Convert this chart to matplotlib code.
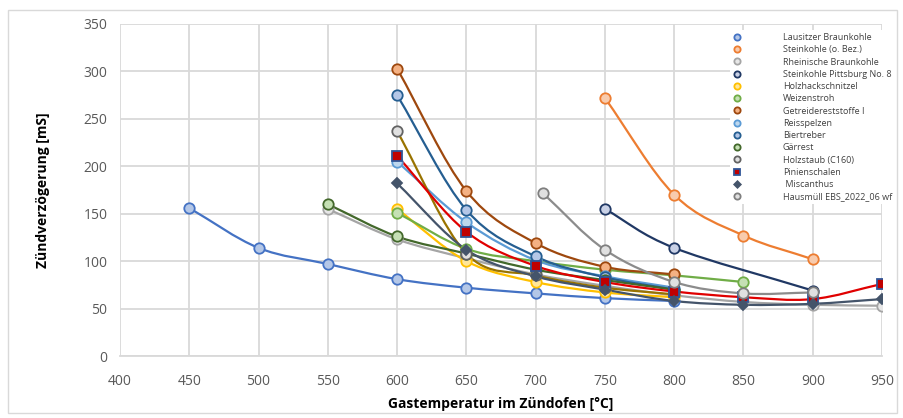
import numpy as np
import matplotlib
matplotlib.use('Agg')
import matplotlib.pyplot as plt
from matplotlib.path import Path
from matplotlib.patches import PathPatch, Rectangle

plt.rcParams['font.family'] = ['Open Sans', 'DejaVu Sans']

# ****************************** data ******************************
names = ['Lausitzer Braunkohle', 'Steinkohle (o. Bez.)', 'Rheinische Braunkohle',
         'Steinkohle Pittsburg No. 8', 'Holzhackschnitzel', 'Weizenstroh',
         'Getreidereststoffe I', 'Reisspelzen', 'Biertreber', 'Gärrest',
         'Holzstaub (C160)', 'Pinienschalen', ' Miscanthus', 'Hausmüll EBS_2022_06 wf']

lausitzer_t = [450, 500, 550, 600, 650, 700, 750, 800]
lausitzer_v = [156, 114, 97, 81, 72, 66, 61, 58]
steinkohle_t = [750, 800, 850, 900]
steinkohle_v = [272, 170, 127, 102]
rheinisch_t = [550, 600, 650, 700, 750, 800, 850, 900, 950]
rheinisch_v = [155, 123, 103, 86, 74, 64, 57, 54, 53]
pittsburg_t = [750, 800, 900]
pittsburg_v = [155, 114, 69]
holzhack_t = [600, 650, 700, 750, 800]
holzhack_v = [155, 100, 78, 67, 62]
weizen_t = [600, 650, 700, 750, 800, 850]
weizen_v = [151, 113, 100, 91, 85, 78]
getreide_t = [600, 650, 700, 750, 800]
getreide_v = [303, 174, 119, 94, 86]
reis_t = [600, 650, 700, 750, 800]
reis_v = [205, 141, 101, 84, 72]
biertreber_t = [600, 650, 700, 750, 800]
biertreber_v = [275, 154, 105, 83, 70]
gaerrest_t = [550, 600, 650, 700, 750, 800]
gaerrest_v = [160, 126, 108, 91, 80, 70]
holzstaub_t = [600, 650, 700, 750, 800]
holzstaub_v = [237, 108, 85, 72, 65]
pinien_t = [600, 650, 700, 750, 800, 850, 900, 950]
pinien_v = [211, 131, 95, 78, 68, 62, 60, 76]
miscanthus_t = [600, 650, 700, 750, 800, 850, 900, 950]
miscanthus_v = [182, 112, 84, 70, 58, 54, 55, 60]
hausmuell_t = [705, 750, 800, 850, 900]
hausmuell_v = [172, 112, 78, 66, 67]

temps = [lausitzer_t, steinkohle_t, rheinisch_t, pittsburg_t, holzhack_t, weizen_t,
         getreide_t, reis_t, biertreber_t, gaerrest_t, holzstaub_t, pinien_t,
         miscanthus_t, hausmuell_t]
values = [lausitzer_v, steinkohle_v, rheinisch_v, pittsburg_v, holzhack_v, weizen_v,
          getreide_v, reis_v, biertreber_v, gaerrest_v, holzstaub_v, pinien_v,
          miscanthus_v, hausmuell_v]

# ****************************** styles ******************************
edge = ['#4472C4', '#ED7D31', '#A5A5A5', '#203864', '#FFC000', '#70AD47', '#9E480E',
        '#5B9BD5', '#255E91', '#43682B', '#636363', '#2F5597', '#44546A', '#7F7F7F']
face = ['#B4C7E7', '#F8CBAD', '#E7E7E7', '#C9D1E6', '#FFE699', '#C5E0B4', '#F4B183',
        '#BDD7EE', '#B4C7E7', '#C5E0B4', '#E0E0E0', '#C00000', '#44546A', '#E0E0E0']
line = ['#4472C4', '#ED7D31', '#A5A5A5', '#203864', '#FFC000', '#70AD47', '#9E480E',
        '#5B9BD5', '#255E91', '#43682B', '#997300', '#E00000', '#44546A', '#8C8C8C']
marker = ['o'] * 11 + ['s', 'D', 'o']
msize = [7.5] * 11 + [7.5, 5.5, 7.5]


def smooth_path(xs, ys, t=1 / 6):
    # Excel-like smoothed line: Catmull-Rom segments as cubic Bezier
    pts = list(zip(xs, ys))
    n = len(pts)
    if n > 1:
        first = (2 * pts[0][0] - pts[1][0], 2 * pts[0][1] - pts[1][1])
        last = (2 * pts[-1][0] - pts[-2][0], 2 * pts[-1][1] - pts[-2][1])
        ext = [first] + pts + [last]
    else:
        ext = pts
    verts = [pts[0]]
    codes = [Path.MOVETO]
    for i in range(1, n):
        p0, p1, p2, p3 = ext[i - 1], ext[i], ext[i + 1], ext[i + 2]
        c1 = (p1[0] + (p2[0] - p0[0]) * t, p1[1] + (p2[1] - p0[1]) * t)
        c2 = (p2[0] - (p3[0] - p1[0]) * t, p2[1] - (p3[1] - p1[1]) * t)
        verts += [c1, c2, p2]
        codes += [Path.CURVE4] * 3
    return Path(verts, codes)


fig = plt.figure(figsize=(9.04, 4.18), dpi=100)
fig.patches.append(Rectangle((0.009, 0.013), 0.983, 0.963, transform=fig.transFigure,
                             fill=False, edgecolor='#D9D9D9', linewidth=1))
ax = fig.add_axes([0.1327, 0.1483, 0.8430, 0.7943])

for i in range(len(names)):
    ax.add_patch(PathPatch(smooth_path(temps[i], values[i]), facecolor='none',
                           edgecolor=line[i], linewidth=1.6, zorder=3 + i * 0.01))
for i in range(len(names)):
    ax.plot(temps[i], values[i], linestyle='none', marker=marker[i], markersize=msize[i],
            markerfacecolor=face[i], markeredgecolor=edge[i], markeredgewidth=1.3,
            label=names[i], zorder=4 + i * 0.01)

ax.set_xlim(400, 950)
ax.set_ylim(0, 350)
ax.set_xticks(np.arange(400, 951, 50))
ax.set_yticks(np.arange(0, 351, 50))
ax.grid(True, color='#D9D9D9', linewidth=1.3)
ax.set_axisbelow(True)
for s in ['top', 'right', 'left']:
    ax.spines[s].set_visible(False)
ax.spines['bottom'].set_color('#D9D9D9')
ax.spines['bottom'].set_linewidth(1.3)
ax.tick_params(axis='x', length=0, labelsize=10, colors='#595959', pad=13)
ax.tick_params(axis='y', length=0, labelsize=10, colors='#595959', pad=9)
ax.set_xlabel('Gastemperatur im Zündofen [°C]', fontsize=10, fontweight='bold', labelpad=6)
ax.set_ylabel('Zündverzögerung [mS]', fontsize=10, fontweight='bold', labelpad=24)

leg = ax.legend(loc='upper left', bbox_to_anchor=(0.802, 0.938), bbox_transform=fig.transFigure,
                frameon=True, fontsize=6.5, handletextpad=4.6, labelspacing=0.36,
                borderpad=0.3, handlelength=1.0, markerscale=0.6)
leg.get_frame().set_facecolor('white')
leg.get_frame().set_edgecolor('none')
leg.get_frame().set_alpha(1)
leg.set_zorder(10)
for txt in leg.get_texts():
    txt.set_color('#404040')

fig.savefig('out.png', dpi=100)
